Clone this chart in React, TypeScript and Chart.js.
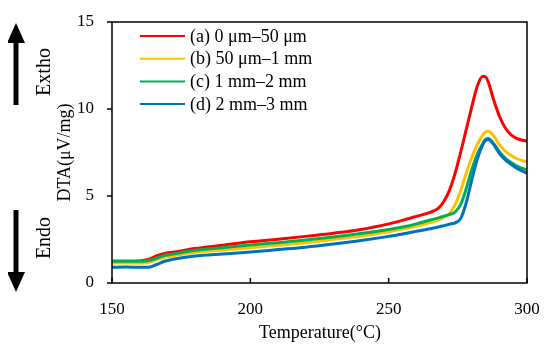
import React, { useEffect, useRef } from "react";
import { Chart, registerables } from "chart.js";

Chart.register(...registerables);

const temps = [150, 155, 160, 163, 166, 169, 172, 180, 190, 200, 210, 220, 230, 240, 250, 255, 260, 265, 268, 270, 272, 274, 276, 278, 280, 282, 284, 285, 286, 288, 290, 292, 294, 296, 298, 300];

const seriesA = [1.25, 1.25, 1.26, 1.35, 1.55, 1.7, 1.77, 1.98, 2.17, 2.37, 2.52, 2.68, 2.86, 3.08, 3.4, 3.6, 3.83, 4.06, 4.3, 4.7, 5.34, 6.3, 7.5, 8.8, 10.1, 11.3, 11.88, 11.85, 11.55, 10.5, 9.6, 8.95, 8.55, 8.33, 8.22, 8.15];
const seriesB = [1.15, 1.15, 1.15, 1.18, 1.33, 1.48, 1.56, 1.76, 1.9, 2.02, 2.17, 2.32, 2.5, 2.7, 2.95, 3.1, 3.28, 3.48, 3.62, 3.78, 3.98, 4.5, 5.3, 6.3, 7.2, 7.95, 8.5, 8.68, 8.72, 8.45, 7.95, 7.6, 7.35, 7.17, 7.05, 6.97];
const seriesC = [1.25, 1.25, 1.25, 1.28, 1.42, 1.58, 1.66, 1.88, 2.03, 2.18, 2.32, 2.47, 2.64, 2.84, 3.08, 3.22, 3.4, 3.62, 3.74, 3.84, 3.94, 4.08, 4.5, 5.4, 6.5, 7.4, 8.0, 8.25, 8.3, 8.0, 7.55, 7.2, 6.95, 6.75, 6.6, 6.5];
const seriesD = [0.9, 0.92, 0.9, 0.9, 1.05, 1.25, 1.36, 1.55, 1.67, 1.78, 1.92, 2.06, 2.24, 2.44, 2.68, 2.82, 2.97, 3.12, 3.22, 3.3, 3.38, 3.46, 3.7, 4.6, 5.9, 7.1, 7.95, 8.2, 8.25, 7.95, 7.45, 7.1, 6.85, 6.63, 6.45, 6.32];

const seriesLabels = ["(a) 0 μm–50 μm", "(b) 50 μm–1 mm", "(c) 1 mm–2 mm", "(d) 2 mm–3 mm"];
const seriesColors = ["#ff0000", "#ffc000", "#00b050", "#0070c0"];
const xTicks = [150, 200, 250, 300];
const yTicks = [0, 5, 10, 15];
const xTitle = "Temperature(°C)";
const yTitle = "DTA(μV/mg)";
const upLabel = "Extho";
const downLabel = "Endo";

const FONT = "'Liberation Serif', 'Times New Roman', serif";

const decorPlugin = {
  id: "decor",
  afterDraw(chart: any) {
    const { ctx, chartArea } = chart;
    const { left, right, top, bottom } = chartArea;
    const xs = chart.scales.x;
    const ys = chart.scales.y;
    ctx.save();
    // box
    ctx.strokeStyle = "#000";
    ctx.lineWidth = 1.5;
    ctx.strokeRect(left, top, right - left, bottom - top);
    // x ticks (inward)
    xTicks.forEach((v) => {
      const px = xs.getPixelForValue(v);
      ctx.beginPath();
      ctx.moveTo(px, bottom);
      ctx.lineTo(px, bottom - 5);
      ctx.stroke();
    });
    // y ticks (outward)
    yTicks.forEach((v) => {
      const py = ys.getPixelForValue(v);
      ctx.beginPath();
      ctx.moveTo(left, py);
      ctx.lineTo(left - 5, py);
      ctx.stroke();
    });
    // legend
    ctx.font = `18px ${FONT}`;
    ctx.textBaseline = "middle";
    ctx.textAlign = "left";
    chart.data.datasets.forEach((ds: any, i: number) => {
      const y = top + 14 + i * 22.7;
      ctx.strokeStyle = ds.borderColor;
      ctx.lineWidth = 2;
      ctx.beginPath();
      ctx.moveTo(left + 28, y);
      ctx.lineTo(left + 73, y);
      ctx.stroke();
      ctx.fillStyle = "#000";
      ctx.fillText(ds.label, left + 78, y + 1);
    });
    ctx.fillStyle = "#000";
    ctx.textAlign = "center";
    // x title
    ctx.font = `18px ${FONT}`;
    ctx.fillText(xTitle, 312, 325);
    // y title
    const cy = (top + bottom) / 2;
    ctx.save();
    ctx.translate(57, cy);
    ctx.rotate(-Math.PI / 2);
    ctx.fillText(yTitle, 0, 0);
    ctx.restore();
    // Extho / Endo
    ctx.font = `20px ${FONT}`;
    ctx.save();
    ctx.translate(37, 64);
    ctx.rotate(-Math.PI / 2);
    ctx.fillText(upLabel, 0, 0);
    ctx.restore();
    ctx.save();
    ctx.translate(37, 230);
    ctx.rotate(-Math.PI / 2);
    ctx.fillText(downLabel, 0, 0);
    ctx.restore();
    // arrows
    const drawArrow = (x: number, yTail: number, yTip: number) => {
      const dir = yTip < yTail ? -1 : 1;
      const headLen = 20;
      const headHalf = 9;
      ctx.fillStyle = "#000";
      ctx.fillRect(x - 2.5, Math.min(yTail, yTip + (dir === -1 ? headLen - 1 : 0)), 5, Math.abs(yTail - yTip) - headLen + 1);
      ctx.beginPath();
      ctx.moveTo(x, yTip);
      ctx.lineTo(x - headHalf, yTip - dir * headLen);
      ctx.lineTo(x + headHalf, yTip - dir * headLen);
      ctx.closePath();
      ctx.fill();
    };
    drawArrow(8, 97, 15);
    drawArrow(8, 202, 284);
    ctx.restore();
  },
};

export default function App() {
  const ref = useRef<HTMLCanvasElement | null>(null);
  useEffect(() => {
    if (!ref.current) return;
    const allSeries = [seriesA, seriesB, seriesC, seriesD];
    const chart = new Chart(ref.current, {
      type: "line",
      data: {
        datasets: allSeries.map((s, i) => ({
          label: seriesLabels[i],
          data: temps.map((t, j) => ({ x: t, y: s[j] })),
          borderColor: seriesColors[i],
          backgroundColor: seriesColors[i],
          borderWidth: 3,
          pointRadius: 0,
          cubicInterpolationMode: "monotone" as const,
          order: 3 - i,
        })),
      },
      options: {
        responsive: false,
        animation: false,
        layout: { padding: { top: 14, right: 15, bottom: 0, left: 0 } },
        plugins: { legend: { display: false }, tooltip: { enabled: false } },
        scales: {
          x: {
            type: "linear",
            min: 150,
            max: 300,
            grid: { display: false, drawTicks: false },
            border: { display: false },
            afterBuildTicks: (scale: any) => {
              scale.ticks = xTicks.map((v) => ({ value: v }));
            },
            afterFit: (scale: any) => {
              scale.height = 62;
              scale.paddingLeft = 0;
              scale.paddingRight = 0;
            },
            ticks: {
              color: "#000",
              padding: 16,
              font: { family: FONT, size: 17 },
            },
          },
          y: {
            min: 0,
            max: 15,
            grid: { display: false, drawTicks: false },
            border: { display: false },
            afterBuildTicks: (scale: any) => {
              scale.ticks = yTicks.map((v) => ({ value: v }));
            },
            afterFit: (scale: any) => {
              scale.width = 104;
              scale.paddingTop = 0;
              scale.paddingBottom = 0;
            },
            ticks: {
              color: "#000",
              padding: 18,
              font: { family: FONT, size: 17 },
            },
          },
        },
      },
      plugins: [decorPlugin],
    });
    return () => chart.destroy();
  }, []);
  return <canvas ref={ref} width={534} height={337} style={{ display: "block" }} />;
}
